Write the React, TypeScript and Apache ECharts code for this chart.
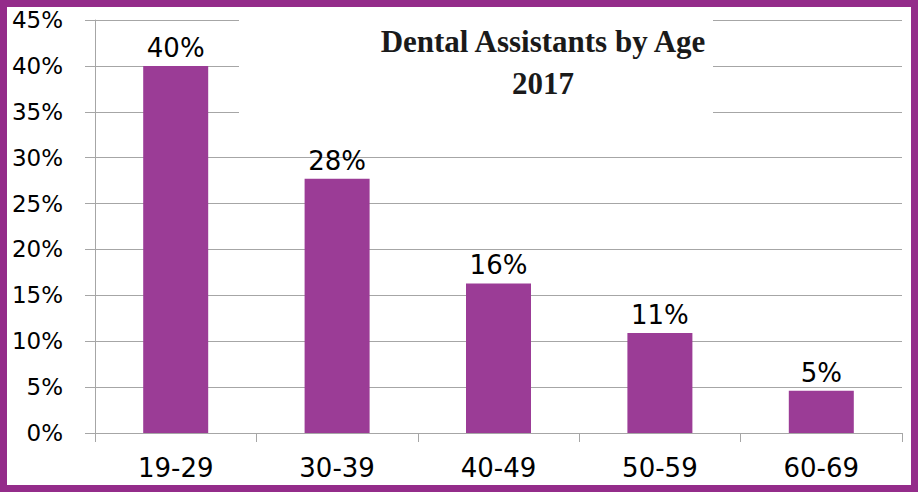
import React, { useEffect, useRef } from "react";
import * as echarts from "echarts";

const categories = ["19-29", "30-39", "40-49", "50-59", "60-69"];
const shares = [40.0, 27.7, 16.3, 10.9, 4.6];
const yTicks = { min: 0, max: 45, interval: 5 };
const titleLines = ["Dental Assistants by Age", "2017"];

const FRAME = "#942C8A";
const BAR = "#9B3C96";
const GRID = "#A6A6A6";
const SANS = "'DejaVu Sans', Verdana, sans-serif";

export default function App() {
  const ref = useRef<HTMLDivElement>(null);
  useEffect(() => {
    document.body.style.margin = "0";
    const chart = echarts.init(ref.current!, null, { renderer: "svg" });
    chart.setOption({
      animation: false,
      backgroundColor: "#ffffff",
      title: {
        text: titleLines.join("\n"),
        left: 543,
        top: 20,
        padding: 0,
        textAlign: "center",
        z: 6,
        textStyle: {
          fontFamily: "'Liberation Serif', 'Times New Roman', serif",
          fontWeight: "bold",
          fontSize: 31,
          lineHeight: 42,
          color: "#1a1a1a",
          align: "center",
        },
      },
      grid: { left: 95, right: 20, top: 20, bottom: 60, containLabel: false },
      xAxis: {
        type: "category",
        data: categories,
        boundaryGap: true,
        axisLine: { show: true, lineStyle: { color: GRID, width: 1 } },
        axisTick: { show: true, length: 9, alignWithLabel: false, lineStyle: { color: GRID } },
        axisLabel: { fontSize: 26, color: "#000", fontFamily: SANS, margin: 22 },
        splitLine: { show: false },
      },
      yAxis: {
        type: "value",
        min: yTicks.min,
        max: yTicks.max,
        interval: yTicks.interval,
        axisLine: { show: true, lineStyle: { color: GRID, width: 1 } },
        axisTick: { show: true, length: 10, inside: false, lineStyle: { color: GRID } },
        axisLabel: {
          formatter: "{value}%",
          fontSize: 23,
          color: "#000",
          fontFamily: SANS,
          margin: 32,
        },
        splitLine: { show: true, lineStyle: { color: GRID, width: 1 } },
      },
      graphic: [
        {
          type: "rect",
          z: 1,
          silent: true,
          shape: { x: 239, y: 9, width: 474, height: 118 },
          style: { fill: "#ffffff" },
        },
        {
          type: "rect",
          z: 10,
          silent: true,
          shape: { x: 3.5, y: 3.5, width: 911, height: 485 },
          style: { fill: "none", stroke: FRAME, lineWidth: 7 },
        },
      ],
      series: [
        {
          type: "bar",
          data: shares,
          barWidth: 65,
          z: 2,
          itemStyle: { color: BAR },
          label: {
            show: true,
            position: "top",
            distance: 5,
            fontSize: 26,
            color: "#000",
            fontFamily: SANS,
            formatter: (p: any) => Math.round(p.value) + "%",
          },
        },
      ],
    });
    return () => chart.dispose();
  }, []);
  return <div ref={ref} style={{ width: 922, height: 493 }} />;
}
